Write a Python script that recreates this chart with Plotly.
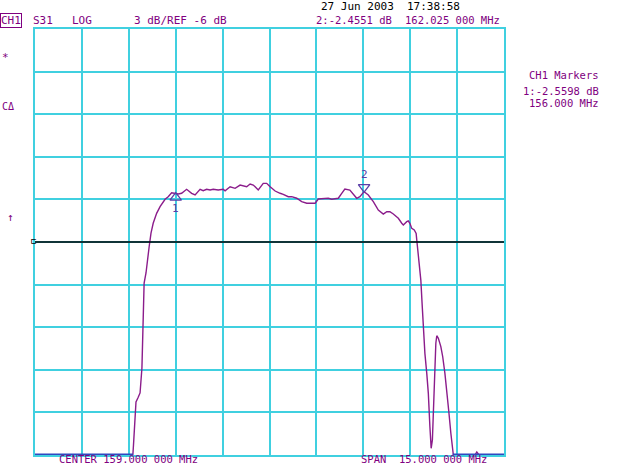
"""Network analyzer S31 sweep (HP-style screen dump) redrawn with Plotly."""

import plotly.graph_objects as go

# Sweep settings
CENTER_MHZ = 159.0
SPAN_MHZ = 15.0
REF_DB = -6.0
DB_PER_DIV = 3.0

# Trace (MHz, dB); the display floor is -21 dB
FREQ_MHZ = [
    151.50, 154.63, 154.65, 154.70, 154.73, 154.79, 154.86, 154.92, 154.95, 154.99,
    155.05, 155.11, 155.15, 155.21, 155.28, 155.39, 155.50, 155.66, 155.76, 155.87,
    156.00, 156.08, 156.19, 156.35, 156.51, 156.62, 156.78, 156.88, 156.99, 157.10,
    157.20, 157.36, 157.52, 157.58, 157.74, 157.90, 158.06, 158.16, 158.27, 158.38,
    158.48, 158.54, 158.64, 158.80, 158.91, 159.02, 159.18, 159.34, 159.44, 159.60,
    159.71, 159.87, 160.03, 160.19, 160.46, 160.56, 160.72, 160.88, 160.99, 161.20,
    161.31, 161.41, 161.57, 161.79, 161.89, 162.025, 162.16, 162.32, 162.48, 162.64,
    162.75, 162.85, 162.96, 163.12, 163.23, 163.28, 163.39, 163.44, 163.49, 163.55,
    163.63, 163.69, 163.71, 163.74, 163.76, 163.84, 163.88, 163.92, 163.97, 164.03,
    164.08, 164.13, 164.17, 164.21, 164.24, 164.28, 164.32, 164.35, 164.40, 164.48,
    164.54, 164.61, 164.67, 164.74, 164.80, 164.86, 164.88, 165.57, 165.63, 165.70,
    166.50,
]
LEVEL_DB = [
    -21.00, -21.00, -20.30, -18.32, -17.27, -16.99, -16.63, -14.87, -11.99, -8.89,
    -8.18, -7.27, -6.35, -5.37, -4.68, -3.98, -3.51, -2.99, -2.81, -2.53,
    -2.56, -2.62, -2.57, -2.29, -2.57, -2.69, -2.29, -2.39, -2.29, -2.34,
    -2.29, -2.34, -2.29, -2.39, -2.11, -2.22, -1.99, -2.06, -2.11, -1.92,
    -1.99, -2.11, -2.34, -1.87, -1.87, -2.11, -2.41, -2.57, -2.64, -2.81,
    -2.81, -2.92, -3.16, -3.27, -3.27, -2.97, -2.92, -2.92, -2.99, -2.92,
    -2.57, -2.27, -2.34, -2.92, -2.81, -2.455, -2.69, -3.16, -3.75, -4.03,
    -3.87, -3.87, -4.03, -4.33, -4.68, -4.80, -4.57, -4.52, -4.68, -5.04,
    -5.15, -5.39, -5.86, -6.56, -7.04, -8.68, -10.32, -11.96, -13.84, -15.25,
    -16.66, -19.01, -20.53, -19.94, -18.06, -15.25, -13.13, -12.60, -12.78, -13.37,
    -14.08, -15.25, -16.42, -18.06, -19.47, -20.88, -21.00, -21.00, -20.79, -21.00,
    -21.00,
]

# Markers: (label, MHz, dB)
MARKERS = [("1", 156.000, -2.5598), ("2", 162.025, -2.4551)]

GRID = "#40d0e0"
TRACE = "#8b1c8b"
FLOOR = "#3048c0"
TEXT = "#800080"
MARK = "#5b3fa8"
FONT = "DejaVu Sans Mono, Liberation Mono, monospace"

x_lo = CENTER_MHZ - SPAN_MHZ / 2
x_hi = CENTER_MHZ + SPAN_MHZ / 2
y_lo = REF_DB - 5 * DB_PER_DIV
y_hi = REF_DB + 5 * DB_PER_DIV

# plot area in screen pixels
L, T, W, H = 35, 29, 469, 426
px_per_db = H / (y_hi - y_lo)

fig = go.Figure()

fig.add_trace(go.Scatter(
    x=FREQ_MHZ, y=LEVEL_DB, mode="lines",
    line=dict(color=TRACE, width=1.4), hoverinfo="skip",
))
# parts pinned to the display floor are drawn in blue
floor = [y_lo if v <= y_lo + 0.25 else None for v in LEVEL_DB]
fig.add_trace(go.Scatter(
    x=FREQ_MHZ, y=floor, mode="lines",
    line=dict(color=FLOOR, width=3), connectgaps=False, hoverinfo="skip",
))

# marker triangles: 1 (reference) below the trace, 2 above it
off = 4.5 / px_per_db
fig.add_trace(go.Scatter(
    x=[MARKERS[0][1]], y=[MARKERS[0][2] - off], mode="markers",
    marker=dict(symbol="triangle-up-open", size=10, color=MARK, line=dict(width=1.3)),
    hoverinfo="skip",
))
fig.add_trace(go.Scatter(
    x=[MARKERS[1][1]], y=[MARKERS[1][2] + off], mode="markers",
    marker=dict(symbol="triangle-down-open", size=10, color=MARK, line=dict(width=1.3)),
    hoverinfo="skip",
))
fig.add_annotation(x=MARKERS[0][1], y=MARKERS[0][2], text=MARKERS[0][0], showarrow=False,
                   yshift=-15, font=dict(family=FONT, size=11, color=MARK))
fig.add_annotation(x=MARKERS[1][1], y=MARKERS[1][2], text=MARKERS[1][0], showarrow=False,
                   yshift=17, font=dict(family=FONT, size=11, color=MARK))

# reference level line
fig.add_hline(y=REF_DB, line=dict(color="black", width=1.3))


def label(text, x, y, color=TEXT, anchor="left", size=11, **kw):
    # x, y in screen pixels
    fig.add_annotation(
        text=text, x=(x - L) / W, y=(T + H - y) / H, xref="paper", yref="paper",
        xanchor=anchor, yanchor="middle", showarrow=False,
        font=dict(family=FONT, size=size, color=color), **kw,
    )


label("27 Jun 2003", 319, 7, color="black")
label("17:38:58", 405, 7, color="black")
label("CH1", 0, 20, bordercolor=TEXT, borderwidth=1, borderpad=0)
label("S31", 31, 20)
label("LOG", 70, 20)
label("3 dB/REF -6 dB", 132, 20)
label("2:-2.4551 dB", 314, 20, size=10.5)
label("162.025 000 MHz", 403, 20, size=10.5)

label("CH1 Markers", 601, 75, anchor="right", size=10.5)
label("1:-2.5598 dB", 601, 91, anchor="right", size=10.5)
label("156.000 MHz", 601, 103, anchor="right", size=10.5)

label("*", 0, 58)
label("C\u0394", 0, 107, size=10)
label("\u2191", 5, 218)
label("\u228f", 29, 241, color="black", size=9)

label("CENTER 159.000 000 MHz", 57, 459, size=10.5)
label("SPAN  15.000 000 MHz", 359, 459, size=10.5)

fig.update_xaxes(
    range=[x_lo, x_hi], tick0=x_lo, dtick=SPAN_MHZ / 10,
    showgrid=True, gridcolor=GRID, gridwidth=2,
    showline=True, mirror=True, linecolor=GRID, linewidth=2,
    showticklabels=False, ticks="", zeroline=False, layer="below traces",
)
fig.update_yaxes(
    range=[y_lo, y_hi], tick0=y_lo, dtick=DB_PER_DIV,
    showgrid=True, gridcolor=GRID, gridwidth=2,
    showline=True, mirror=True, linecolor=GRID, linewidth=2,
    showticklabels=False, ticks="", zeroline=False, layer="below traces",
)
fig.update_layout(
    width=640, height=465,
    margin=dict(l=L, r=640 - L - W, t=T, b=465 - T - H, autoexpand=False),
    paper_bgcolor="white", plot_bgcolor="white",
    showlegend=False,
)

# the page body has a default margin; drop it so the figure sits at 0,0
fig.write_html(
    "out.html",
    config={"displayModeBar": False},
    post_script="document.body.style.margin = '0';",
)
